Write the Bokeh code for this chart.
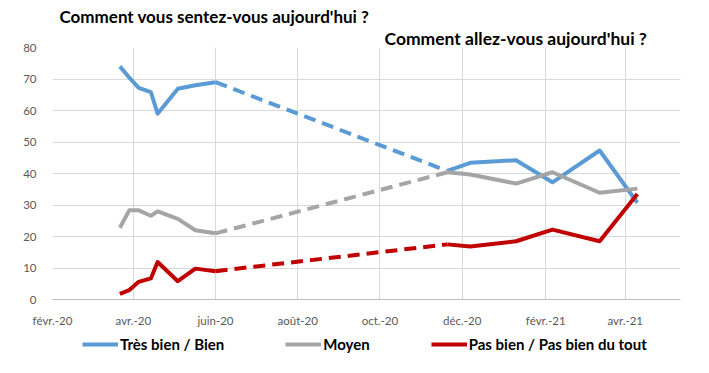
import pandas as pd
from bokeh.plotting import figure
from bokeh.layouts import column
from bokeh.models import FixedTicker, Legend, LegendItem, Title, Range1d
from bokeh.embed import file_html
from bokeh.resources import INLINE

# ---- data ----
tick_dates = ["2020-02-01", "2020-04-01", "2020-06-01", "2020-08-01",
              "2020-10-01", "2020-12-01", "2021-02-01", "2021-04-01"]
tick_labels = ["févr.-20", "avr.-20", "juin-20", "août-20",
               "oct.-20", "déc.-20", "févr.-21", "avr.-21"]

dates_spring = ["2020-03-22", "2020-03-29", "2020-04-05", "2020-04-14",
                "2020-04-19", "2020-05-04", "2020-05-17", "2020-06-01"]
dates_winter = ["2020-11-20", "2020-12-07", "2021-01-10", "2021-02-06",
                "2021-03-13", "2021-04-10"]

bien_spring = [74, 70.4, 67.2, 65.8, 59, 66.9, 68, 69]
bien_winter = [40.8, 43.4, 44.2, 37.2, 47.3, 30.7]
moyen_spring = [22.8, 28.3, 28.3, 26.6, 28.0, 25.6, 22.0, 21.0]
moyen_winter = [40.4, 39.7, 36.8, 40.4, 33.9, 35.2]
mal_spring = [1.8, 3.0, 5.6, 6.7, 11.9, 5.8, 9.8, 9.0]
mal_winter = [17.5, 16.8, 18.5, 22.2, 18.5, 33.5]

series_names = ["Très bien / Bien", "Moyen", "Pas bien / Pas bien du tout"]
series_colors = ["#5B9BD5", "#A5A5A5", "#C00000"]

title1 = "Comment vous sentez-vous aujourd'hui ?"
title2 = "Comment allez-vous aujourd'hui ?"


def ms(d):
    return pd.Timestamp(d).value / 1e6


FONT = "Lato"

p = figure(frame_width=628, frame_height=252, x_axis_type="datetime",
           output_backend="svg", toolbar_location=None,
           min_border_left=52, min_border_right=20,
           min_border_top=47, min_border_bottom=30,
           x_range=Range1d(ms("2020-02-01"), ms("2021-05-12")),
           y_range=Range1d(0, 80))
p.outline_line_color = None
p.background_fill_color = "white"
p.border_fill_color = "white"

# titles (outer one via p.title, inner one added to "above")
p.title.text = title1
p.title.align = "left"
p.title.offset = 7
p.title.standoff = 0
p.title.text_font = FONT
p.title.text_font_style = "bold"
p.title.text_font_size = "17px"
p.title.text_color = "black"
t2 = Title(text=title2, align="left", offset=332, standoff=-2,
           text_font=FONT, text_font_style="bold", text_font_size="17.5px",
           text_color="black")
p.add_layout(t2, "above")

tick_ms = [ms(d) for d in tick_dates]
p.xaxis.ticker = FixedTicker(ticks=tick_ms, minor_ticks=[])
p.xaxis.major_label_overrides = {t: l for t, l in zip(tick_ms, tick_labels)}
p.yaxis.ticker = FixedTicker(ticks=list(range(0, 81, 10)), minor_ticks=[])

for ax in (p.xaxis, p.yaxis):
    ax.major_tick_line_color = None
    ax.minor_tick_line_color = None
    ax.major_label_text_font = FONT
    ax.major_label_text_font_size = "11.5px"
    ax.major_label_text_color = "#595959"
p.xaxis.axis_line_color = "#BFBFBF"
p.yaxis.axis_line_color = None
p.xaxis.major_label_standoff = 8
p.yaxis.major_label_standoff = 10
p.xgrid.grid_line_color = "#D9D9D9"
p.ygrid.grid_line_color = "#D9D9D9"

ds = [ms(d) for d in dates_spring]
dw = [ms(d) for d in dates_winter]
springs = [bien_spring, moyen_spring, mal_spring]
winters = [bien_winter, moyen_winter, mal_winter]
for name, col, vs, vw in zip(series_names, series_colors, springs, winters):
    p.line(ds, vs, line_color=col, line_width=4, line_join="round")
    p.line([ds[-1], dw[0]], [vs[-1], vw[0]], line_color=col, line_width=4,
           line_dash="12 7")
    p.line(dw, vw, line_color=col, line_width=4, line_join="round")

# ---- legend strip below the chart (frame aligned with the chart's frame) ----
pl = figure(width=700, height=30, output_backend="svg", toolbar_location=None,
            x_axis_location=None, y_axis_location=None,
            min_border_left=0, min_border_right=0, min_border_top=0,
            min_border_bottom=0, x_range=Range1d(0, 1), y_range=Range1d(0, 1))
pl.outline_line_color = None
pl.xgrid.visible = False
pl.ygrid.visible = False
items = []
for name, col, vs in zip(series_names, series_colors, springs):
    # same series, out of this strip's view: only its legend swatch shows
    r = pl.line(ds, vs, line_color=col, line_width=4)
    items.append(LegendItem(label=name, renderers=[r]))
legend = Legend(items=items, orientation="horizontal", location=(30, 5),
                spacing=61, glyph_width=36, glyph_height=20, label_standoff=2,
                padding=0, margin=0, border_line_color=None,
                background_fill_alpha=0,
                label_text_font=FONT, label_text_font_style="bold",
                label_text_font_size="15px", label_text_color="black")
pl.add_layout(legend, "center")

layout = column(p, pl, spacing=0)
open("out.html", "w").write(file_html(layout, INLINE))
